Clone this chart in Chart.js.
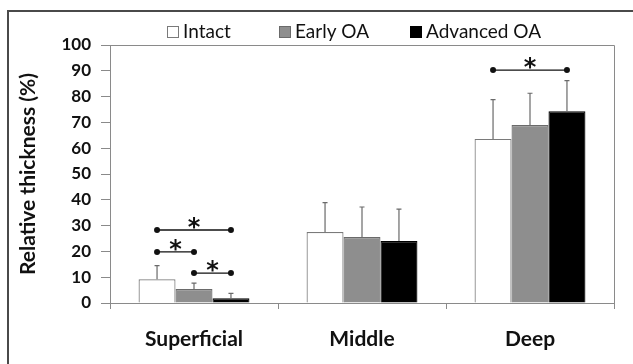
<!DOCTYPE html>
<html>
<head>
<meta charset="utf-8">
<script src="https://cdn.jsdelivr.net/npm/chart.js@4/dist/chart.umd.min.js"></script>
<style>
    body { margin: 0; background: #fff; }
    #wrap { width: 633px; height: 364px; }
</style>
</head>
<body>
<div id="wrap"><canvas id="chart" width="633" height="364"></canvas></div>
<script>
const categories = ["Superficial", "Middle", "Deep"];
const seriesNames = ["Intact", "Early OA", "Advanced OA"];

const intact = [9.2, 27.5, 63.6];
const earlyOA = [5.4, 25.6, 69.0];
const advancedOA = [1.8, 24.0, 74.3];

// standard deviations (upper whiskers only)
const intactSD = [5.3, 11.4, 15.2];
const earlyOASD = [2.3, 11.6, 12.3];
const advancedOASD = [1.9, 12.4, 11.9];

// significance brackets: category, from series, to series, height (%)
const bracketCategory = [0, 0, 0, 2];
const bracketFrom = [0, 0, 1, 0];
const bracketTo = [2, 1, 2, 2];
const bracketLevel = [28.3, 19.8, 11.6, 90.3];

const yTicks = [0, 10, 20, 30, 40, 50, 60, 70, 80, 90, 100];

const FONT = "Lato";
const AXIS_GREY = "#8a8a8a";

const errorBars = {
    id: "errorBars",
    afterDatasetsDraw(chart) {
        const ctx = chart.ctx;
        const y = chart.scales.y;
        ctx.save();
        ctx.strokeStyle = "#6a6a6a";
        ctx.lineWidth = 1.2;
        chart.data.datasets.forEach((ds, di) => {
            const meta = chart.getDatasetMeta(di);
            meta.data.forEach((bar, i) => {
                const top = y.getPixelForValue(ds.data[i] + ds.sd[i]);
                ctx.beginPath();
                ctx.moveTo(bar.x, bar.y);
                ctx.lineTo(bar.x, top);
                ctx.moveTo(bar.x - 2.5, top);
                ctx.lineTo(bar.x + 2.5, top);
                ctx.stroke();
            });
        });
        ctx.restore();
    }
};

const brackets = {
    id: "brackets",
    afterDatasetsDraw(chart) {
        const ctx = chart.ctx;
        const y = chart.scales.y;
        ctx.save();
        ctx.strokeStyle = "#111";
        ctx.fillStyle = "#111";
        ctx.lineWidth = 1.3;
        bracketLevel.forEach((level, k) => {
            const c = bracketCategory[k];
            const x1 = chart.getDatasetMeta(bracketFrom[k]).data[c].x;
            const x2 = chart.getDatasetMeta(bracketTo[k]).data[c].x;
            const py = y.getPixelForValue(level);
            ctx.beginPath();
            ctx.moveTo(x1, py);
            ctx.lineTo(x2, py);
            ctx.stroke();
            [x1, x2].forEach(px => {
                ctx.beginPath();
                ctx.arc(px, py, 3, 0, Math.PI * 2);
                ctx.fill();
            });
            ctx.font = "bold 24px 'DejaVu Sans'";
            ctx.textAlign = "center";
            ctx.textBaseline = "alphabetic";
            ctx.fillText("*", (x1 + x2) / 2, py + 5);
        });
        ctx.restore();
    }
};

const frame = {
    id: "frame",
    afterDraw(chart) {
        const ctx = chart.ctx;
        const a = chart.chartArea;
        ctx.save();
        // plot area box (top and right sides)
        ctx.strokeStyle = AXIS_GREY;
        ctx.lineWidth = 1;
        ctx.beginPath();
        ctx.moveTo(a.left, a.top + 0.5);
        ctx.lineTo(a.right + 0.5, a.top + 0.5);
        ctx.lineTo(a.right + 0.5, a.bottom);
        ctx.stroke();
        // outer figure frame
        ctx.strokeStyle = "#4a4a4a";
        ctx.lineWidth = 2;
        ctx.beginPath();
        ctx.moveTo(8, chart.height);
        ctx.lineTo(8, 11);
        ctx.lineTo(chart.width, 11);
        ctx.stroke();
        // legend
        const starts = [167, 279, 410];
        ctx.font = `19px ${FONT}`;
        ctx.textBaseline = "middle";
        ctx.textAlign = "left";
        chart.data.datasets.forEach((ds, i) => {
            const x = starts[i];
            ctx.fillStyle = ds.backgroundColor;
            ctx.fillRect(x, 26, 11, 11);
            ctx.strokeStyle = ds.borderColor;
            ctx.lineWidth = 1;
            ctx.strokeRect(x + 0.5, 26.5, 11, 11);
            ctx.fillStyle = "#111";
            ctx.fillText(ds.label, x + 16, 32);
        });
        ctx.restore();
    }
};

new Chart(document.getElementById("chart"), {
    type: "bar",
    data: {
        labels: categories,
        datasets: [
            { label: seriesNames[0], data: intact, sd: intactSD, backgroundColor: "#ffffff", borderColor: "#7a7a7a" },
            { label: seriesNames[1], data: earlyOA, sd: earlyOASD, backgroundColor: "#8e8e8e", borderColor: "#6a6a6a" },
            { label: seriesNames[2], data: advancedOA, sd: advancedOASD, backgroundColor: "#000000", borderColor: "#000000" }
        ].map(d => Object.assign(d, { borderWidth: 1.2, categoryPercentage: 0.66, barPercentage: 1 }))
    },
    options: {
        responsive: false,
        animation: false,
        layout: { padding: { top: 45, right: 19, left: 0, bottom: 0 } },
        plugins: {
            legend: { display: false },
            tooltip: { enabled: false }
        },
        scales: {
            x: {
                grid: { drawOnChartArea: false, tickLength: 6, color: AXIS_GREY },
                border: { color: AXIS_GREY },
                ticks: { color: "#111", padding: 18, font: { family: FONT, size: 21, weight: "bold" } },
                afterFit(scale) { scale.height = 61; }
            },
            y: {
                min: 0,
                max: 100,
                afterBuildTicks(scale) { scale.ticks = yTicks.map(v => ({ value: v })); },
                grid: { drawOnChartArea: false, tickLength: 9, color: AXIS_GREY },
                border: { color: AXIS_GREY },
                ticks: { color: "#111", padding: 10, font: { family: FONT, size: 17, weight: "bold" } },
                title: {
                    display: true,
                    text: "Relative thickness (%)",
                    color: "#111",
                    padding: { top: 16, bottom: 0 },
                    font: { family: FONT, size: 21, weight: "bold" }
                },
                afterFit(scale) { scale.width = 110; }
            }
        }
    },
    plugins: [errorBars, brackets, frame]
});
</script>
</body>
</html>
